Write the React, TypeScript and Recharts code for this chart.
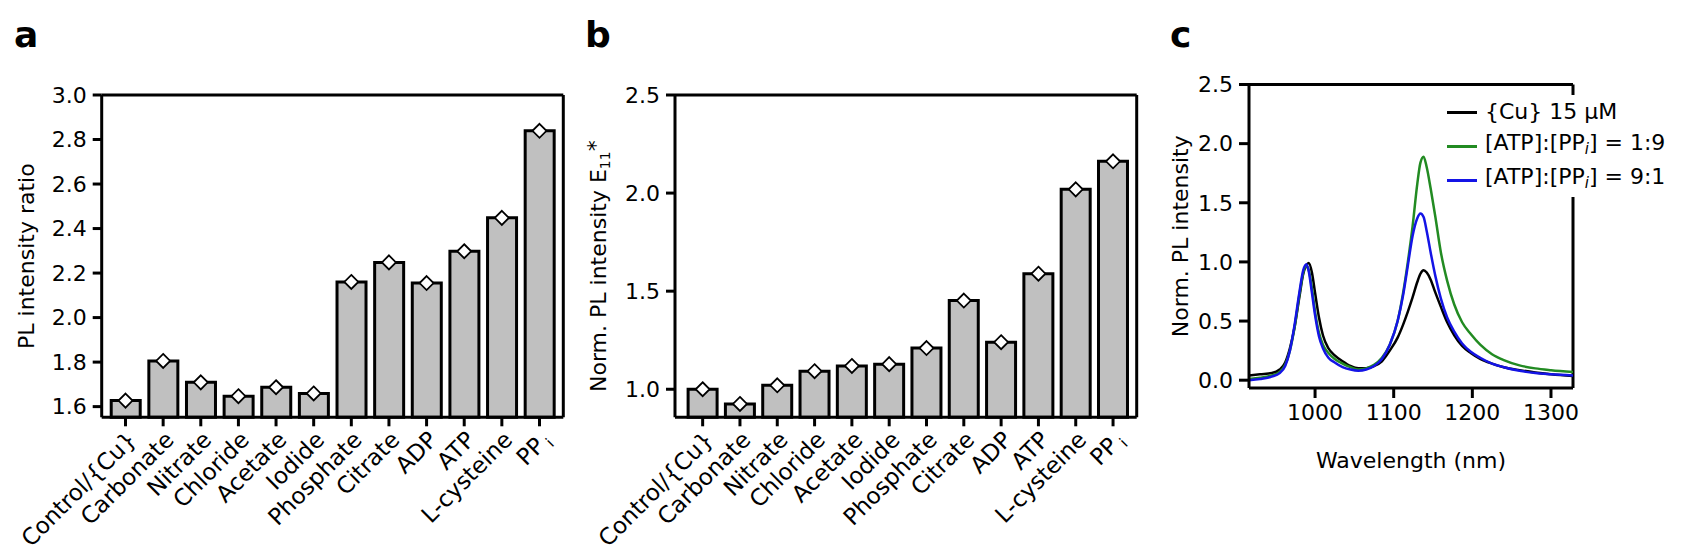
import React from "react";
import {
  ComposedChart,
  Bar,
  Scatter,
  XAxis,
  YAxis,
  Label,
  LineChart,
  Line,
  Legend,
  CartesianGrid,
} from "recharts";

// ---- panel a / b : anion screening ----
const anions = [
  "Control/{Cu}",
  "Carbonate",
  "Nitrate",
  "Chloride",
  "Acetate",
  "Iodide",
  "Phosphate",
  "Citrate",
  "ADP",
  "ATP",
  "L-cysteine",
  "PPi",
];
const ratioValues = [1.627, 1.805, 1.709, 1.647, 1.687, 1.659, 2.16, 2.248, 2.155, 2.298, 2.448, 2.839];
const normE11Values = [1.0, 0.925, 1.02, 1.092, 1.119, 1.128, 1.21, 1.452, 1.24, 1.589, 2.019, 2.162];
const ratioTicks = [1.6, 1.8, 2.0, 2.2, 2.4, 2.6, 2.8, 3.0];
const normTicks = [1.0, 1.5, 2.0, 2.5];

// ---- panel c : spectra ----
const wavelengths = [
  916, 930, 945, 955, 962, 968, 974, 980, 985, 989, 992, 996, 1000, 1005, 1010, 1017, 1025, 1035, 1045,
  1055, 1065, 1075, 1085, 1095, 1105, 1112, 1118, 1124, 1130, 1134, 1138, 1142, 1147, 1153, 1160, 1168,
  1177, 1187, 1198, 1210, 1225, 1240, 1260, 1280, 1300, 1328,
];
const cuOnly = [
  0.04, 0.05, 0.06, 0.09, 0.15, 0.27, 0.45, 0.7, 0.9, 0.97, 0.99, 0.91, 0.74, 0.53, 0.38, 0.27, 0.21, 0.16,
  0.12, 0.1, 0.1, 0.12, 0.16, 0.25, 0.36, 0.47, 0.58, 0.7, 0.83, 0.9, 0.93, 0.91, 0.85, 0.74, 0.62, 0.49,
  0.38, 0.29, 0.23, 0.18, 0.14, 0.11, 0.085, 0.065, 0.05, 0.035,
];
const atpPpi19 = [
  0.01, 0.02, 0.04, 0.07, 0.13, 0.25, 0.45, 0.72, 0.91, 0.97, 0.93, 0.78, 0.58, 0.4, 0.3, 0.23, 0.18, 0.14,
  0.11, 0.09, 0.1, 0.13, 0.19, 0.3, 0.5, 0.74, 1.0, 1.3, 1.66, 1.84, 1.89, 1.8, 1.62, 1.38, 1.08, 0.84,
  0.64, 0.49, 0.39, 0.3, 0.22, 0.17, 0.125, 0.1, 0.085, 0.07,
];
const atpPpi91 = [
  0.0, 0.01, 0.03, 0.06, 0.12, 0.25, 0.47, 0.74, 0.93, 0.98, 0.92, 0.74, 0.55, 0.37, 0.27, 0.19, 0.15, 0.11,
  0.09, 0.08, 0.09, 0.12, 0.18, 0.3, 0.5, 0.72, 0.97, 1.22, 1.37, 1.41, 1.38, 1.26, 1.08, 0.88, 0.69, 0.53,
  0.41, 0.31, 0.24, 0.19, 0.14, 0.11, 0.08, 0.06, 0.05, 0.04,
];
const spectrumTicks = [0, 0.5, 1.0, 1.5, 2.0, 2.5];
const wavelengthTicks = [1000, 1100, 1200, 1300];
const legendOrder = ["cu", "r19", "r91"];

const ratioData = anions.map((name, i) => ({ name, value: ratioValues[i] }));
const normData = anions.map((name, i) => ({ name, value: normE11Values[i] }));
const spectrumData = wavelengths.map((wl, i) => ({
  wl,
  cu: cuOnly[i],
  r19: atpPpi19[i],
  r91: atpPpi91[i],
}));

const FONT = "'DejaVu Sans', sans-serif";
const TICK = 22;
const TITLE = 22;
const axisStyle = { stroke: "#000", strokeWidth: 3 };

// top and right edges of the plot box, taken from the chart offset
const topEdge = (args: any) => (args && args.offset ? [args.offset.top] : []);
const rightEdge = (args: any) =>
  args && args.offset ? [args.offset.left + args.offset.width] : [];

const Frame = () => (
  <CartesianGrid
    stroke="#000"
    strokeWidth={3}
    horizontalCoordinatesGenerator={topEdge}
    verticalCoordinatesGenerator={rightEdge}
  />
);

const CategoryTick = (props: any) => {
  const { x, y, payload } = props;
  const label: string = payload.value;
  return (
    <g transform={`translate(${x + 12},${y + 13})`}>
      <text transform="rotate(-45)" textAnchor="end" fontSize={23} fill="#000">
        {label === "PPi" ? (
          <>
            PP<tspan dx={4} dy={5} fontSize={15}>i</tspan>
          </>
        ) : (
          label
        )}
      </text>
    </g>
  );
};

const Diamond = (props: any) => {
  const { cx, cy } = props;
  const r = 7;
  return (
    <path
      d={`M${cx},${cy - r}L${cx + r},${cy}L${cx},${cy + r}L${cx - r},${cy}Z`}
      fill="#fff"
      stroke="#000"
      strokeWidth={1.8}
    />
  );
};

const makeTitle = (offset: number, shift: number, children: React.ReactNode) => (props: any) => {
  const { x, y, height } = props.viewBox;
  const cx = x + offset;
  const cy = y + height / 2 + shift;
  return (
    <text
      x={cx}
      y={cy}
      transform={`rotate(-90, ${cx}, ${cy})`}
      textAnchor="middle"
      dominantBaseline="central"
      fontSize={TITLE}
      fill="#000"
    >
      {children}
    </text>
  );
};

const fmt1 = (v: number) => v.toFixed(1);

const legendName = (name: string) => {
  if (!name.includes("PPi")) return name;
  const [before, after] = name.split("PPi");
  return (
    <>
      {before}PP
      <sub style={{ fontSize: 15, fontStyle: "italic", verticalAlign: "-4px" }}>i</sub>
      {after}
    </>
  );
};

const SpectrumLegend = (props: any) => {
  const items = [...(props.payload || [])].sort(
    (a: any, b: any) => legendOrder.indexOf(a.dataKey) - legendOrder.indexOf(b.dataKey)
  );
  return (
    <div style={{ background: "#fff", width: 240 }}>
      {items.map((entry: any) => (
        <div
          key={entry.dataKey}
          style={{ display: "flex", alignItems: "center", height: 34, whiteSpace: "nowrap" }}
        >
          <span
            style={{ display: "inline-block", width: 30, height: 3, background: entry.color, marginRight: 8 }}
          />
          <span>{legendName(entry.value)}</span>
        </div>
      ))}
    </div>
  );
};

const PanelLetter = ({ left, text }: { left: number; text: string }) => (
  <div
    style={{
      position: "absolute",
      left,
      top: 16,
      fontSize: 36,
      lineHeight: "38px",
      fontWeight: "bold",
    }}
  >
    {text}
  </div>
);

const BarPanel = (p: {
  data: { name: string; value: number }[];
  domain: [number, number];
  ticks: number[];
  gap: string;
  padding: { left: number; right: number };
  yWidth: number;
  marginLeft: number;
  marginRight: number;
  width: number;
  title: (props: any) => React.ReactNode;
}) => (
  <ComposedChart
    width={p.width}
    height={556}
    data={p.data}
    margin={{ top: 95, right: p.marginRight, bottom: 8.7, left: p.marginLeft }}
    barCategoryGap={p.gap}
  >
    {Frame()}
    <XAxis
      dataKey="name"
      type="category"
      interval={0}
      height={130}
      padding={p.padding}
      axisLine={axisStyle}
      tickLine={axisStyle}
      tickSize={9}
      tick={<CategoryTick />}
    />
    <YAxis
      type="number"
      domain={p.domain}
      ticks={p.ticks}
      tickFormatter={fmt1}
      width={p.yWidth}
      axisLine={axisStyle}
      tickLine={axisStyle}
      tickSize={9}
      tickMargin={6}
      tick={{ fill: "#000", fontSize: TICK }}
    >
      <Label content={p.title} />
    </YAxis>
    <Bar dataKey="value" fill="#c0c0c0" stroke="#000" strokeWidth={3} isAnimationActive={false} />
    <Scatter dataKey="value" shape={<Diamond />} isAnimationActive={false} />
  </ComposedChart>
);

export default function App() {
  return (
    <div
      style={{
        position: "absolute",
        left: 0,
        top: 0,
        width: 1689,
        height: 556,
        background: "#fff",
        fontFamily: FONT,
        color: "#000",
        overflow: "hidden",
      }}
    >
      <div style={{ position: "absolute", left: 0, top: 0 }}>
        <BarPanel
          data={ratioData}
          domain={[1.552, 3]}
          ticks={ratioTicks}
          gap="12%"
          padding={{ left: 5, right: 5 }}
          yWidth={88}
          marginLeft={13.7}
          marginRight={26.7}
          width={590}
          title={makeTitle(13, 0, "PL intensity ratio")}
        />
      </div>
      <div style={{ position: "absolute", left: 580, top: 0 }}>
        <BarPanel
          data={normData}
          domain={[0.857, 2.5]}
          ticks={normTicks}
          gap="11%"
          padding={{ left: 9, right: 5 }}
          yWidth={80}
          marginLeft={15}
          marginRight={23.3}
          width={580}
          title={makeTitle(
            4,
            10,
            <>
              Norm. PL intensity E<tspan dy={6} fontSize={14}>11</tspan>
              <tspan dy={-10}>*</tspan>
            </>
          )}
        />
      </div>
      <div style={{ position: "absolute", left: 1140, top: 0 }}>
        <LineChart
          width={549}
          height={556}
          data={spectrumData}
          margin={{ top: 84.5, right: 116, bottom: 86, left: 29 }}
        >
          {Frame()}
          <XAxis
            dataKey="wl"
            type="number"
            domain={[916, 1328]}
            ticks={wavelengthTicks}
            height={82}
            axisLine={axisStyle}
            tickLine={axisStyle}
            tickSize={10}
            tickMargin={6}
            tick={{ fill: "#000", fontSize: TICK }}
          >
            <Label value="Wavelength (nm)" position="insideBottom" offset={2} fill="#000" fontSize={TITLE} />
          </XAxis>
          <YAxis
            type="number"
            domain={[-0.066, 2.5]}
            ticks={spectrumTicks}
            tickFormatter={fmt1}
            width={80}
            axisLine={axisStyle}
            tickLine={axisStyle}
            tickSize={10}
            tickMargin={6}
            tick={{ fill: "#000", fontSize: TICK }}
          >
            <Label content={makeTitle(11, 0, "Norm. PL intensity")} />
          </YAxis>
          <Line dataKey="cu" name="{Cu} 15 μM" type="monotone" stroke="#000" strokeWidth={2.5} dot={false} isAnimationActive={false} />
          <Line dataKey="r19" name="[ATP]:[PPi] = 1:9" type="monotone" stroke="#228b22" strokeWidth={2.5} dot={false} isAnimationActive={false} />
          <Line dataKey="r91" name="[ATP]:[PPi] = 9:1" type="monotone" stroke="#1414e6" strokeWidth={2.5} dot={false} isAnimationActive={false} />
          <Legend
            layout="vertical"
            align="center"
            verticalAlign="middle"
            content={<SpectrumLegend />}
            wrapperStyle={{ left: 307, top: 95, width: 240, fontSize: 22, lineHeight: "34px", color: "#000" }}
          />
        </LineChart>
      </div>
      <PanelLetter left={14} text="a" />
      <PanelLetter left={585} text="b" />
      <PanelLetter left={1170} text="c" />
    </div>
  );
}
